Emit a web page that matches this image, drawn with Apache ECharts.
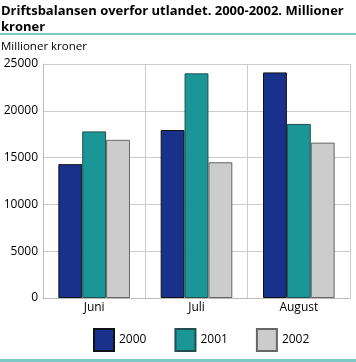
<!DOCTYPE html>
<html><head><meta charset="utf-8">
<script src="https://cdn.jsdelivr.net/npm/echarts@6/dist/echarts.min.js"></script>
<style>html,body{margin:0;padding:0;background:#fff}#c{width:356px;height:362px}</style>
</head><body><div id="c"></div>
<script>
const categories = ['Juni', 'Juli', 'August'];
const s2000 = [14300, 17950, 24100];
const s2001 = [17800, 24000, 18600];
const s2002 = [16900, 14500, 16600];
const seriesNames = ['2000', '2001', '2002'];
const yTicks = [0, 5000, 10000, 15000, 20000, 25000];

const FONT = '"Open Sans", "Noto Sans", sans-serif';
const colors = ['#1a318c', '#1a9696', '#cccccc'];
const borders = ['#111111', '#1f4f4f', '#666666'];
const data = [s2000, s2001, s2002];

const chart = echarts.init(document.getElementById('c'), null, {renderer: 'canvas'});
chart.setOption({
  animation: false,
  textStyle: {fontFamily: FONT},
  title: [{
    text: 'Driftsbalansen overfor utlandet. 2000-2002. Millioner\nkroner',
    left: 1, top: 3, padding: 0,
    textStyle: {fontSize: 13, fontWeight: 'bold', color: '#000', fontFamily: FONT, lineHeight: 16}
  }, {
    text: 'Millioner kroner',
    left: 1, top: 41, padding: 0,
    textStyle: {fontSize: 11.5, fontWeight: 'normal', color: '#000', fontFamily: FONT}
  }],
  graphic: [
    {type: 'rect', shape: {x: 0, y: 33, width: 356, height: 2}, style: {fill: '#7fc9c9'}},
    {type: 'rect', shape: {x: 0, y: 359, width: 356, height: 3}, style: {fill: '#7fc9c9'}}
  ],
  legend: {
    data: seriesNames,
    top: 328, padding: 0,
    left: 93,
    itemWidth: 20, itemHeight: 22, itemGap: 28,
    textStyle: {fontSize: 12, color: '#000', fontFamily: FONT},
    icon: 'rect'
  },
  grid: {left: 43, right: 6, top: 64, bottom: 64},
  xAxis: {
    type: 'category',
    data: categories,
    axisLine: {lineStyle: {color: '#bbbbbb'}},
    axisTick: {show: false},
    splitLine: {show: true, lineStyle: {color: '#cccccc'}},
    axisLabel: {fontSize: 12, color: '#000', margin: 4, fontFamily: FONT}
  },
  yAxis: {
    type: 'value',
    min: yTicks[0], max: yTicks[yTicks.length - 1], interval: 5000,
    axisLine: {show: true, lineStyle: {color: '#bbbbbb'}},
    axisTick: {show: false},
    splitLine: {lineStyle: {color: '#cccccc'}},
    axisLabel: {fontSize: 12, color: '#000', margin: 5, fontFamily: FONT, formatter: v => String(v)}
  },
  series: seriesNames.map((n, i) => ({
    name: n,
    type: 'bar',
    data: data[i],
    barGap: '0%',
    barCategoryGap: '30%',
    itemStyle: {color: colors[i], borderColor: borders[i], borderWidth: 1}
  }))
});
</script></body></html>
